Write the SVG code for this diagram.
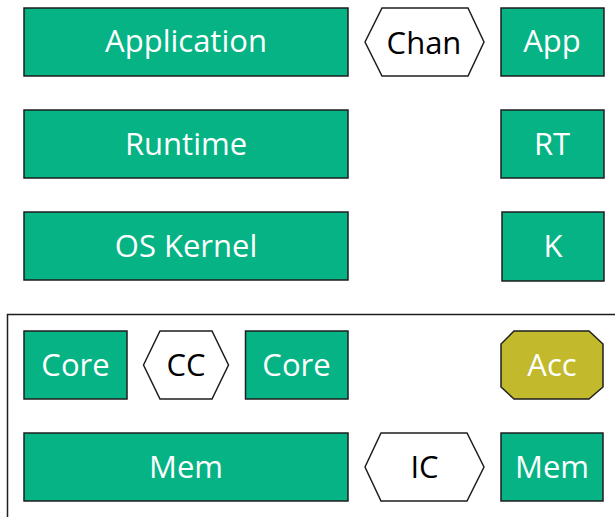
<svg xmlns="http://www.w3.org/2000/svg" width="615" height="517" viewBox="0 0 615 517">
<style>
.b{fill:#05b384;stroke:#1e1e1e;stroke-width:1.5}
.h{fill:#ffffff;stroke:#1e1e1e;stroke-width:1.5}
.a{fill:#c2b92d;stroke:#1e1e1e;stroke-width:1.5}
text{font-family:"Open Sans","Noto Sans",sans-serif;font-size:31px;text-anchor:middle;dominant-baseline:central}
.w{fill:#ffffff}
.k{fill:#000000}
</style>
<rect width="615" height="517" fill="#ffffff"/>
<g id="frame"><path d="M7.5,520 V314.5 H620" fill="none" stroke="#1e1e1e" stroke-width="1.5"/></g>
<g id="application"><rect class="b" x="24" y="8" width="324" height="68"/><text class="w" x="186" y="40">Application</text></g>
<g id="chan"><polygon class="h" points="365,42 382,8 468,8 484,42 468,76 382,76"/><text class="k" x="424" y="42">Chan</text></g>
<g id="app"><rect class="b" x="501" y="8" width="103" height="68"/><text class="w" x="552" y="40">App</text></g>
<g id="runtime"><rect class="b" x="24" y="110" width="324" height="68"/><text class="w" x="186" y="143">Runtime</text></g>
<g id="rt"><rect class="b" x="501" y="110" width="103" height="68"/><text class="w" x="552" y="143">RT</text></g>
<g id="oskernel"><rect class="b" x="24" y="212" width="324" height="68"/><text class="w" x="186" y="245">OS Kernel</text></g>
<g id="k"><rect class="b" x="502" y="212" width="102" height="69"/><text class="w" x="553" y="245">K</text></g>
<g id="core1"><rect class="b" x="24" y="331" width="103" height="68"/><text class="w" x="75.5" y="364">Core</text></g>
<g id="cc"><polygon class="h" points="143.5,365 160,331 212,331 228.5,365 212,399 160,399"/><text class="k" x="186" y="364">CC</text></g>
<g id="core2"><rect class="b" x="245.5" y="331" width="102.5" height="68"/><text class="w" x="296.5" y="364">Core</text></g>
<g id="acc"><polygon class="a" points="514,331 589,331 603,344 603,387 589,399 514,399 501,387 501,344"/><text class="w" x="552" y="364">Acc</text></g>
<g id="mem1"><rect class="b" x="24" y="433" width="324" height="68"/><text class="w" x="186" y="466">Mem</text></g>
<g id="ic"><polygon class="h" points="365,467 381,433 467,433 484,467 467,501 381,501"/><text class="k" x="424.5" y="466">IC</text></g>
<g id="mem2"><rect class="b" x="501" y="433" width="102" height="68"/><text class="w" x="552" y="466">Mem</text></g>
<g id="connectors"></g>
</svg>
